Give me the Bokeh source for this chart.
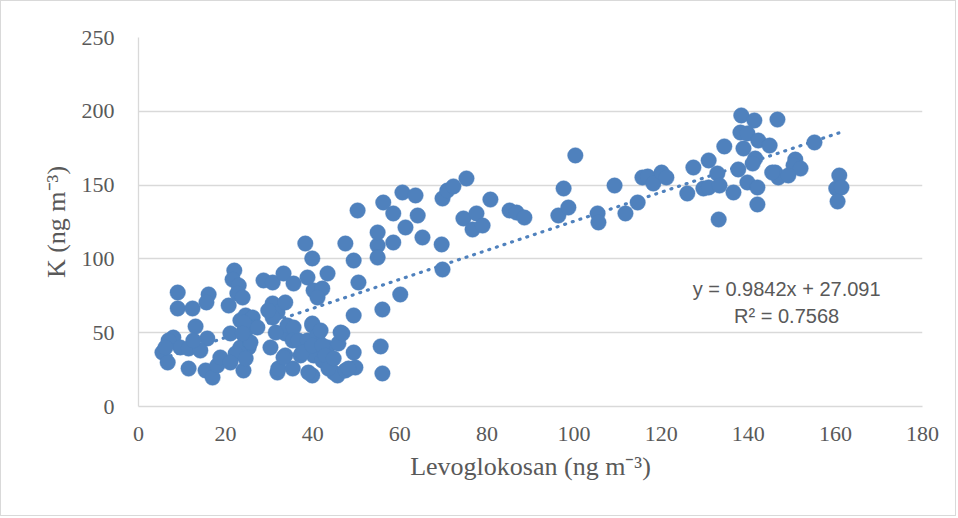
from bokeh.plotting import figure
from bokeh.models import ColumnDataSource, FixedTicker, Label
from bokeh.embed import file_html
from bokeh.resources import INLINE

# Levoglucosan vs potassium concentrations (ng m-3)
levo = [
    9.0, 9.0, 12.4, 13.1, 8.0, 6.9, 5.5, 6.7, 9.6, 11.5, 15.8, 14.2, 11.5, 15.4, 17.0,
    18.1, 18.8, 16.1, 15.6, 20.7, 21.1, 12.6, 6.2, 22.0, 21.6, 23.0, 22.7, 23.4, 24.6,
    26.2, 25.3, 24.6, 25.3, 23.4, 22.3, 21.1, 24.1, 23.9, 27.3, 25.7, 24.6, 24.1, 23.9,
    28.7, 30.8, 33.3, 30.8, 31.9, 30.8, 30.3, 31.9, 33.7, 33.7, 29.8, 35.6, 34.2, 35.6,
    31.5, 33.7, 32.1, 35.4, 35.4, 33.3, 36.7, 38.3, 39.9, 38.8, 43.4, 40.2, 42.2, 41.1,
    47.5, 49.4, 50.5, 49.4, 39.9, 41.3, 46.4, 38.8, 37.2, 43.4, 45.9, 49.4, 40.2, 42.2,
    39.9, 44.8, 45.7, 47.5, 49.8, 37.6, 39.9, 41.1, 39.9, 42.2, 42.9, 39.0, 43.6, 41.8,
    46.8, 48.2, 44.8, 50.3, 54.9, 54.9, 54.9, 58.5, 56.2, 58.5, 60.6, 63.6, 64.1, 61.3,
    65.2, 60.1, 56.0, 55.6, 56.0, 69.6, 69.8, 69.8, 70.9, 72.3, 75.3, 80.8, 74.6, 77.6,
    76.7, 79.0, 85.2, 86.8, 88.6, 96.4, 97.6, 98.7, 100.3, 105.4, 105.6, 109.3, 111.8,
    114.6, 115.7, 116.9, 118.2, 120.1, 121.2, 126.0, 127.4, 130.9, 129.7, 130.9, 132.9,
    133.4, 133.2, 134.5, 138.4, 141.4, 146.7, 138.2, 139.8, 138.9, 142.3, 144.9, 141.6,
    141.0, 137.7, 136.6, 139.8, 142.1, 142.1, 146.2, 146.9, 150.8, 150.4, 152.0, 149.2,
    155.2, 160.9, 160.2, 161.4, 160.5, 145.5,
]
kalium = [
    77.2, 66.4, 66.4, 54.2, 46.7, 44.7, 36.6, 29.8, 40.0, 39.3, 46.1, 37.9, 25.7, 24.4, 19.6,
    27.8, 33.2, 75.9, 70.5, 68.4, 49.5, 44.7, 40.0, 92.1, 86.0, 82.0, 76.6, 58.3, 61.7,
    60.3, 53.5, 46.1, 40.0, 40.0, 35.9, 29.8, 24.4, 73.8, 53.5, 43.4, 32.5, 56.9, 49.5,
    85.4, 84.0, 90.1, 69.8, 63.7, 60.3, 40.0, 23.0, 49.5, 70.5, 65.0, 83.3, 54.9, 53.5,
    50.1, 34.6, 25.7, 25.7, 44.7, 33.2, 44.7, 110.4, 100.3, 87.4, 90.1, 78.6, 79.9, 73.8,
    110.4, 98.9, 84.0, 61.7, 56.2, 50.1, 50.1, 44.7, 34.6, 40.0, 42.7, 36.6, 34.6, 31.2,
    21.0, 23.0, 21.0, 24.4, 26.4, 36.6, 54.9, 48.1, 41.3, 41.3, 34.6, 23.0, 25.7, 51.5,
    49.5, 25.7, 32.5, 132.8, 109.1, 100.9, 117.9, 111.1, 138.2, 130.8, 145.0, 143.0, 129.4, 121.3,
    114.5, 75.9, 65.7, 40.7, 22.4, 109.8, 92.8, 140.9, 146.3, 149.1, 154.5, 140.2, 127.4, 130.8,
    119.9, 122.6, 132.8, 131.4, 128.0, 129.4, 147.7, 134.8, 170.1, 130.8, 124.7, 149.7, 130.8,
    138.2, 155.1, 155.8, 151.1, 158.5, 155.1, 144.3, 161.9, 166.7, 147.7, 148.4, 157.9,
    149.7, 126.7, 176.2, 197.2, 193.8, 194.4, 185.6, 185.0, 174.8, 180.2, 176.8, 168.0,
    164.6, 160.6, 145.0, 151.8, 148.4, 136.9, 158.5, 155.1, 167.3, 163.3, 161.2, 156.5,
    178.9, 156.5, 147.7, 148.4, 138.9, 158.5,
]

# linear fit reported on the chart
slope = 0.9842
intercept = 27.091
r_squared = 0.7568

x_ticks = [0, 20, 40, 60, 80, 100, 120, 140, 160, 180]
y_ticks = [0, 50, 100, 150, 200, 250]

BLUE = "#4F81BD"
GRID = "#D9D9D9"
TEXT = "#595959"
SERIF = "Liberation Serif"

p = figure(
    width=956, height=516,
    x_range=(0, 180), y_range=(0, 250),
    output_backend="svg", toolbar_location=None,
    min_border_left=137, min_border_right=35,
    min_border_top=36, min_border_bottom=111,
)
p.styles = {"border": "1px solid #D9D9D9"}
p.outline_line_color = None
p.background_fill_color = "white"
p.border_fill_color = "white"

p.xgrid.grid_line_color = None
p.ygrid.grid_line_color = GRID
p.ygrid.grid_line_width = 1.3

p.xaxis.ticker = FixedTicker(ticks=x_ticks)
p.yaxis.ticker = FixedTicker(ticks=y_ticks)

for ax in (p.xaxis[0], p.yaxis[0]):
    ax.axis_line_color = GRID
    ax.axis_line_width = 1.3
    ax.major_tick_line_color = None
    ax.minor_tick_line_color = None
    ax.major_label_text_font = SERIF
    ax.major_label_text_font_size = "22px"
    ax.major_label_text_color = TEXT
    ax.axis_label_text_font = SERIF
    ax.axis_label_text_font_size = "26px"
    ax.axis_label_text_font_style = "normal"
    ax.axis_label_text_color = TEXT

p.xaxis.axis_label = "Levoglokosan (ng m\u207b\u00b3)"
p.yaxis.axis_label = "K (ng m\u207b\u00b3)"
p.xaxis.major_label_standoff = 14
p.xaxis.axis_label_standoff = 8
p.yaxis.major_label_standoff = 18
p.yaxis.axis_label_standoff = 8

# trendline across the observed levoglucosan range
x_fit = [min(levo), max(levo)]
y_fit = [slope * v + intercept for v in x_fit]
p.line(x_fit, y_fit, line_color=BLUE, line_width=3.2,
       line_dash="1 7", line_cap="round")

src = ColumnDataSource(data=dict(levo=levo, kalium=kalium))
p.scatter("levo", "kalium", source=src, size=15.5,
          fill_color=BLUE, line_color=BLUE, line_width=0.5)

eq_style = dict(text_font="Liberation Sans", text_font_size="20px",
                text_color=TEXT, text_align="center", text_baseline="middle")
p.add_layout(Label(x=148.8, y=79.5,
                   text=f"y = {slope}x + {intercept}", **eq_style))
p.add_layout(Label(x=148.8, y=61.3,
                   text=f"R\u00b2 = {r_squared}", **eq_style))

open("out.html", "w").write(file_html(p, INLINE))
